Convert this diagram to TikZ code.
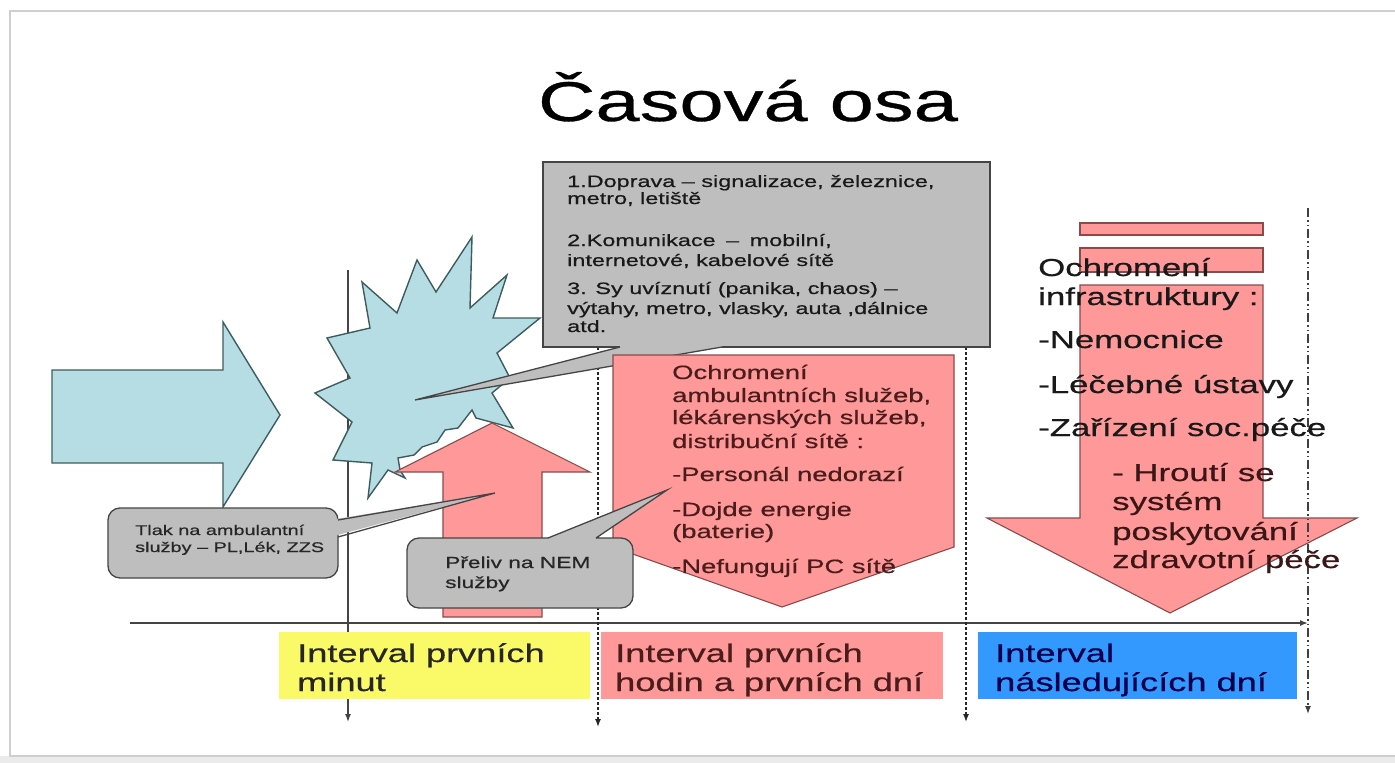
\documentclass[tikz,border=0pt]{standalone}
\usepackage{fontspec}
\setmainfont{Liberation Sans}
\newfontfamily\wide[FakeStretch=1.42,FakeBold=0.6]{Liberation Sans}
\usetikzlibrary{arrows.meta}
\definecolor{lblue}{HTML}{B7DDE4}
\definecolor{bstroke}{HTML}{3E5C5E}
\definecolor{salmon}{HTML}{FF9999}
\definecolor{rstroke}{HTML}{8B4A4A}
\definecolor{cgray}{HTML}{BEBEBE}
\definecolor{gstroke}{HTML}{454545}
\definecolor{ivyellow}{HTML}{FAFA68}
\definecolor{ivblue}{HTML}{3399FF}
\definecolor{mtext}{HTML}{4A1C1C}
\definecolor{framec}{HTML}{CFCFCF}
\definecolor{axisc}{HTML}{444444}
\begin{document}
\begin{tikzpicture}[x=1pt,y=-1pt,
  fs/.style={font=\wide\fontsize{#1}{#1}\selectfont},
  ln/.style={inner sep=0pt, anchor=base west},
  blueshape/.style={fill=lblue, draw=bstroke, line width=1.4pt, line join=miter},
  redshape/.style={fill=salmon, draw=rstroke, line width=1.1pt},
  callout/.style={fill=cgray, draw=gstroke, line width=1.3pt},
  tipA/.style={-{Latex[length=8pt,width=6pt]}},
  vsolid/.style={draw=axisc, line width=1.4pt, tipA},
  vdots/.style={draw=black!85, line width=1.4pt, dash pattern=on 3pt off 2pt, tipA},
  vdashdot/.style={draw=black!75, line width=1.2pt, dash pattern=on 9pt off 3pt on 1.5pt off 3pt on 1.5pt off 3pt, tipA}
]
\useasboundingbox (0,0) rectangle (1395,763);
% frame
\fill[white] (0,0) rectangle (1395,763);
\fill[black!8] (0,756) rectangle (1395,763);
\draw[framec, line width=2.5pt] (1400,11) -- (10,11) -- (10,756) -- (1400,756);

% title
\node[fs=56, inner sep=0pt, anchor=base] (title) at (748,121) {Časová osa};

% axis and vertical lines
\coordinate (axL) at (130,623);
\coordinate (axR) at (1308,623);
\draw[draw=axisc, line width=1.5pt, tipA] (axL) -- (axR);
\coordinate (v1t) at (348,270); \coordinate (v1b) at (348,722);
\coordinate (v2t) at (598,347); \coordinate (v2b) at (598,727);
\coordinate (v3t) at (966,347); \coordinate (v3b) at (966,722);
\coordinate (v4t) at (1308,208); \coordinate (v4b) at (1308,714);
\draw[vsolid] (v1t) -- (v1b);
\draw[vdots] (v2t) -- (v2b);
\draw[vdots] (v3t) -- (v3b);

% left blue arrow
\path[blueshape] (52,370) -- (223,370) -- (223,322) -- (280,415) -- (223,507) -- (223,463) -- (52,463) -- cycle;

% burst
\path[blueshape] (472,237) -- (470,308) -- (507,275) -- (493,318) -- (540,318) -- (497,353) -- (510,378) -- (492,393) -- (513,428) -- (476,418) -- (472,410) -- (458,428) -- (445,430) -- (437,442) -- (422,447) -- (414,455) -- (398,458) -- (400,470) -- (405,478) -- (388,470) -- (368,498) -- (372,463) -- (333,460) -- (352,422) -- (315,393) -- (350,378) -- (327,338) -- (370,328) -- (362,282) -- (397,313) -- (417,260) -- (436,292) -- cycle;

% top callout
\path[callout] (543,162) rectangle (990,347);
\fill[cgray] (620,347) -- (415,400) -- (722,347) -- (722,344) -- (620,344) -- cycle;
\draw[gstroke, line width=1.3pt] (620,347) -- (415,400) -- (722,347);

% red up arrow
\path[redshape] (443,617) -- (443,472) -- (395,472) -- (492,423) -- (590,472) -- (542,472) -- (542,617) -- cycle;

% middle red arrow
\path[redshape] (613,355) -- (954,355) -- (954,547) -- (782,607) -- (613,547) -- cycle;

% right red arrow
\path[redshape] (1080,223) rectangle (1263,235);
\path[redshape] (1080,248) rectangle (1263,272);
\path[redshape] (1080,285) -- (1263,285) -- (1263,518) -- (1357,518) -- (1170,613) -- (987,518) -- (1080,518) -- cycle;

\draw[vdashdot] (v4t) -- (v4b);

% Tlak callout
\path[callout, rounded corners=12pt] (108,508) rectangle (338,578);
\fill[cgray] (330,520) -- (495,493) -- (330,537) -- cycle;
\draw[gstroke, line width=1.3pt] (338,520) -- (495,493) -- (338,537);

% Preliv callout
\path[callout, rounded corners=12pt] (407,538) rectangle (633,608);
\fill[cgray] (548,538) -- (667,490) -- (596,538) -- (596,542) -- (548,542) -- cycle;
\draw[gstroke, line width=1.3pt] (548,538) -- (667,490) -- (596,538);

% interval boxes
\fill[ivyellow] (279,632) rectangle (590,699);
\fill[salmon] (601,632) rectangle (943,699);
\fill[ivblue] (978,632) rectangle (1297,699);

% texts: top callout
\begin{scope}[every node/.style={ln, fs=16.5, text=black!90}]
\node (a1) at (567,187) {1.Doprava – signalizace, železnice,};
\node (a2) at (567,204) {metro, letiště};
\node (a3) at (567,246) {2.Komunikace \hspace{4pt}– \hspace{4pt}mobilní,};
\node (a4) at (567,266) {internetové, kabelové sítě};
\node (a5) at (567,294) {3. Sy uvíznutí (panika, chaos) –};
\node (a6) at (567,314) {výtahy, metro, vlasky, auta ,dálnice};
\node (a7) at (567,332) {atd.};
\end{scope}

% texts: middle arrow
\begin{scope}[every node/.style={ln, fs=19.3, text=mtext}]
\node (b1) at (672,379) {Ochromení};
\node (b2) at (672,402) {ambulantních služeb,};
\node (b3) at (672,424) {lékárenských služeb,};
\node (b4) at (672,448) {distribuční sítě :};
\node (b5) at (672,481) {-Personál nedorazí};
\node (b6) at (672,516) {-Dojde energie};
\node (b7) at (672,538) {(baterie)};
\node (b8) at (672,573) {-Nefungují PC sítě};
\end{scope}

% texts: right arrow
\begin{scope}[every node/.style={ln, fs=24.5, text=black!90}]
\node (c1) at (1038,276) {Ochromení};
\node (c2) at (1038,305) {infrastruktury :};
\node (c3) at (1038,348) {-Nemocnice};
\node (c4) at (1038,393) {-Léčebné ústavy};
\node (c5) at (1038,436) {-Zařízení soc.péče};
\end{scope}
\begin{scope}[every node/.style={ln, fs=24.5, text=mtext!80!black}]
\node (c6) at (1112,481) {- Hroutí se};
\node (c7) at (1112,510) {systém};
\node (c8) at (1112,540) {poskytování};
\node (c9) at (1112,568) {zdravotní péče};
\end{scope}

% callout texts
\node[ln, fs=14, text=black!85] (d1) at (135,535) {Tlak na ambulantní};
\node[ln, fs=14, text=black!85] (d2) at (135,552) {služby – PL,Lék, ZZS};
\node[ln, fs=16, text=black!85] (e1) at (445,568) {Přeliv na NEM};
\node[ln, fs=16, text=black!85] (e2) at (445,588) {služby};

% interval texts
\begin{scope}[every node/.style={ln, fs=25.5}]
\node[text=black!85] (f1) at (297,662) {Interval prvních};
\node[text=black!85] (f2) at (297,691) {minut};
\node[text=mtext] (g1) at (615,662) {Interval prvních};
\node[text=mtext] (g2) at (615,691) {hodin a prvních dní};
\node[text=blue!30!black] (h1) at (995,662) {Interval};
\node[text=blue!30!black] (h2) at (995,691) {následujících dní};
\end{scope}
\end{tikzpicture}
\end{document}
